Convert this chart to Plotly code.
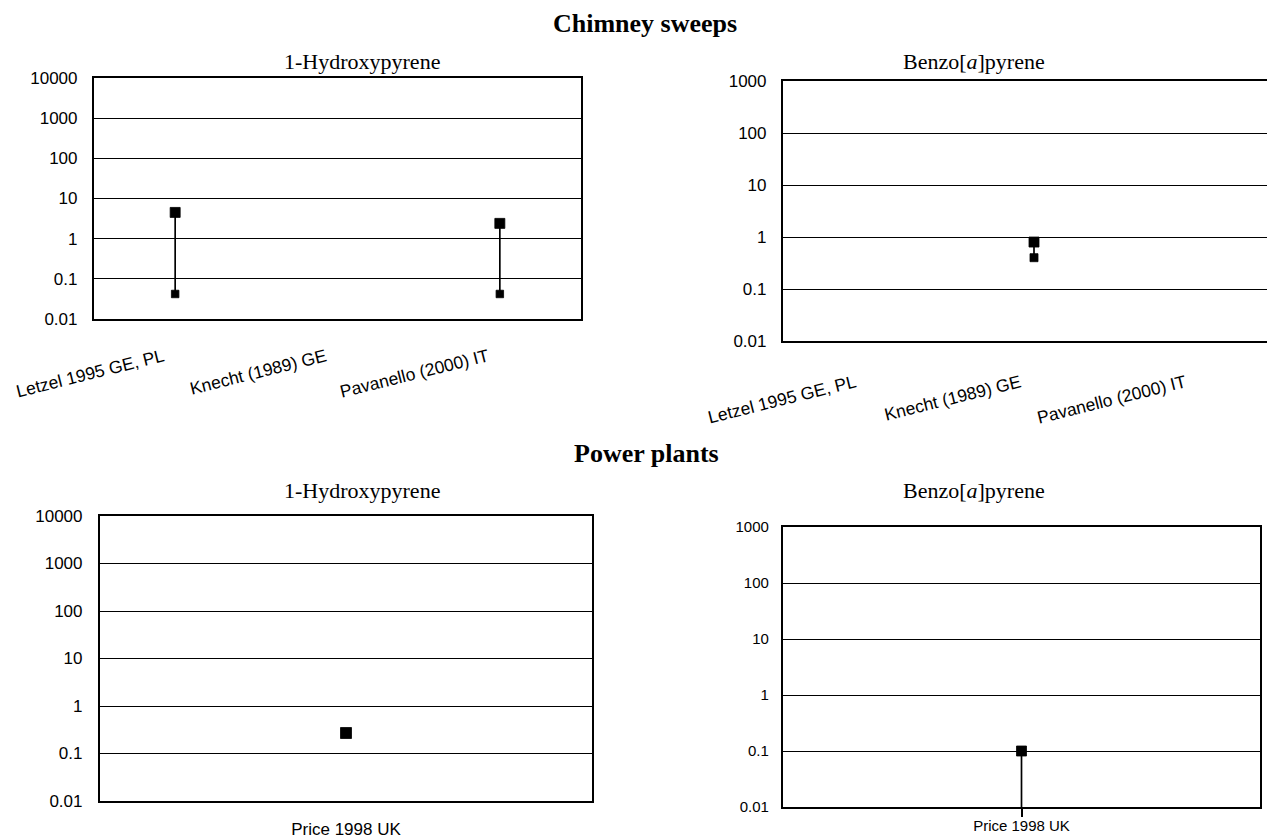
import plotly.graph_objects as go

# ---------------- data ----------------
cs_studies = ["Letzel 1995 GE, PL", "Knecht (1989) GE", "Pavanello (2000) IT"]
cs_ohp_low = [0.042, None, 0.042]
cs_ohp_high = [4.5, None, 2.4]
cs_bap_low = [None, 0.4, None]
cs_bap_high = [None, 0.8, None]

pp_studies = ["Price 1998 UK"]
pp_ohp_low = [0.27]
pp_ohp_high = [0.27]
pp_bap_low = [0.004]
pp_bap_high = [0.1]

ohp_ticks = [0.01, 0.1, 1, 10, 100, 1000, 10000]
ohp_ticktext = ["0.01", "0.1", "1", "10", "100", "1000", "10000"]
bap_ticks = [0.01, 0.1, 1, 10, 100, 1000]
bap_ticktext = ["0.01", "0.1", "1", "10", "100", "1000"]

# ---------------- layout helpers ----------------
W, H = 1267, 837


def px_x(p):
    return p / W


def px_y(p):
    return 1 - p / H


SANS = "Liberation Sans, Arial, sans-serif"
SERIF = "Liberation Serif, Times New Roman, serif"

fig = go.Figure()


def add_panel(idx, studies, low, high, top_size, low_size):
    xa = "x" if idx == 1 else f"x{idx}"
    ya = "y" if idx == 1 else f"y{idx}"
    for i, (lo, hi) in enumerate(zip(low, high)):
        if lo is None or hi is None:
            continue
        if lo == hi:
            xs, ys, sz = [i], [hi], [top_size]
        else:
            xs, ys, sz = [i, i], [lo, hi], [low_size, top_size]
        fig.add_trace(go.Scatter(
            x=xs, y=ys, mode="lines+markers", xaxis=xa, yaxis=ya,
            line=dict(color="black", width=1.7),
            marker=dict(symbol="square", color="black", size=sz, opacity=1,
                        line=dict(color="black", width=0.8)),
            showlegend=False, hoverinfo="y",
        ))


add_panel(1, cs_studies, cs_ohp_low, cs_ohp_high, 10, 7.5)
add_panel(2, cs_studies, cs_bap_low, cs_bap_high, 10, 8)
add_panel(3, pp_studies, pp_ohp_low, pp_ohp_high, 11, 7)
add_panel(4, pp_studies, pp_bap_low, pp_bap_high, 10, 7)

# panel geometry in page pixels: (left, right, top, bottom)
g1 = (94, 581, 78, 319)
g2 = (783, 1267, 81, 341)
g3 = (100, 592, 516, 801)
g4 = (783, 1260, 527, 807)


def xdom(g):
    return [px_x(g[0]), min(1.0, px_x(g[1]))]


def ydom(g):
    return [px_y(g[3]), px_y(g[2])]


def yaxis_cfg(g, anchor, ticks, ticktext, rng, fsize, standoff, mirror=True):
    return dict(
        domain=ydom(g), anchor=anchor, type="log", range=rng,
        tickvals=ticks, ticktext=ticktext,
        showgrid=True, gridcolor="black", gridwidth=1.4,
        showline=True, linecolor="black", linewidth=2.2, mirror=mirror,
        ticks="", ticklabelstandoff=standoff, automargin=False,
        tickfont=dict(family=SANS, size=fsize, color="black"),
        zeroline=False, fixedrange=True,
    )


def xaxis_cfg(g, anchor, studies, rng, angle, fsize, standoff, shift=0, ticks=""):
    return dict(
        domain=xdom(g), anchor=anchor, range=rng,
        tickvals=list(range(len(studies))), ticktext=studies,
        tickangle=angle, showgrid=False, zeroline=False,
        showline=True, linecolor="black", linewidth=2.2, mirror=True,
        ticks=ticks, ticklen=8, tickwidth=1.6, tickcolor="black",
        ticklabelstandoff=standoff, ticklabelshift=shift, automargin=False,
        tickfont=dict(family=SANS, size=fsize, color="black"),
        fixedrange=True,
    )


# panel 2 is cut by the right page edge: categories 165 px apart, first at 869 px
sp2, c0 = 165.0, 869.0
rng2 = [(g2[0] - c0) / sp2, (g2[1] - c0) / sp2]

fig.update_layout(
    width=W, height=H, autosize=False,
    margin=dict(l=0, r=0, t=0, b=0, pad=0, autoexpand=False),
    paper_bgcolor="white", plot_bgcolor="white",
    xaxis=xaxis_cfg(g1, "y", cs_studies, [-0.5, 2.5], -14, 17.5, 19, -12),
    yaxis=yaxis_cfg(g1, "x", ohp_ticks, ohp_ticktext, [-2, 4], 17, 11),
    xaxis2=xaxis_cfg(g2, "y2", cs_studies, rng2, -14, 17.5, 23, -14),
    yaxis2=yaxis_cfg(g2, "x2", bap_ticks, bap_ticktext, [-2, 3], 17, 11, mirror=False),
    xaxis3=xaxis_cfg(g3, "y3", pp_studies, [-0.5, 0.5], 0, 17, 11),
    yaxis3=yaxis_cfg(g3, "x3", ohp_ticks, ohp_ticktext, [-2, 4], 17, 12),
    xaxis4=xaxis_cfg(g4, "y4", pp_studies, [-0.5, 0.5], 0, 15, -4, ticks="outside"),
    yaxis4=yaxis_cfg(g4, "x4", bap_ticks, bap_ticktext, [-2, 3], 15, 9),
)

ann = [
    ("<b>Chimney sweeps</b>", 645, 23, 26),
    ("<b>Power plants</b>", 646, 453, 26),
    ("1-Hydroxypyrene", 362, 61, 22),
    ("Benzo[<i>a</i>]pyrene", 974, 61, 22),
    ("1-Hydroxypyrene", 362, 490, 22),
    ("Benzo[<i>a</i>]pyrene", 974, 491, 22),
]
for text, x, y, s in ann:
    fig.add_annotation(
        text=text, x=px_x(x), y=px_y(y), xref="paper", yref="paper",
        xanchor="center", yanchor="middle", showarrow=False,
        font=dict(family=SERIF, size=s, color="black"),
    )

fig.write_html(
    "out.html",
    config={"displayModeBar": False},
    post_script="document.body.style.margin='0';document.body.style.overflow='hidden';",
)
